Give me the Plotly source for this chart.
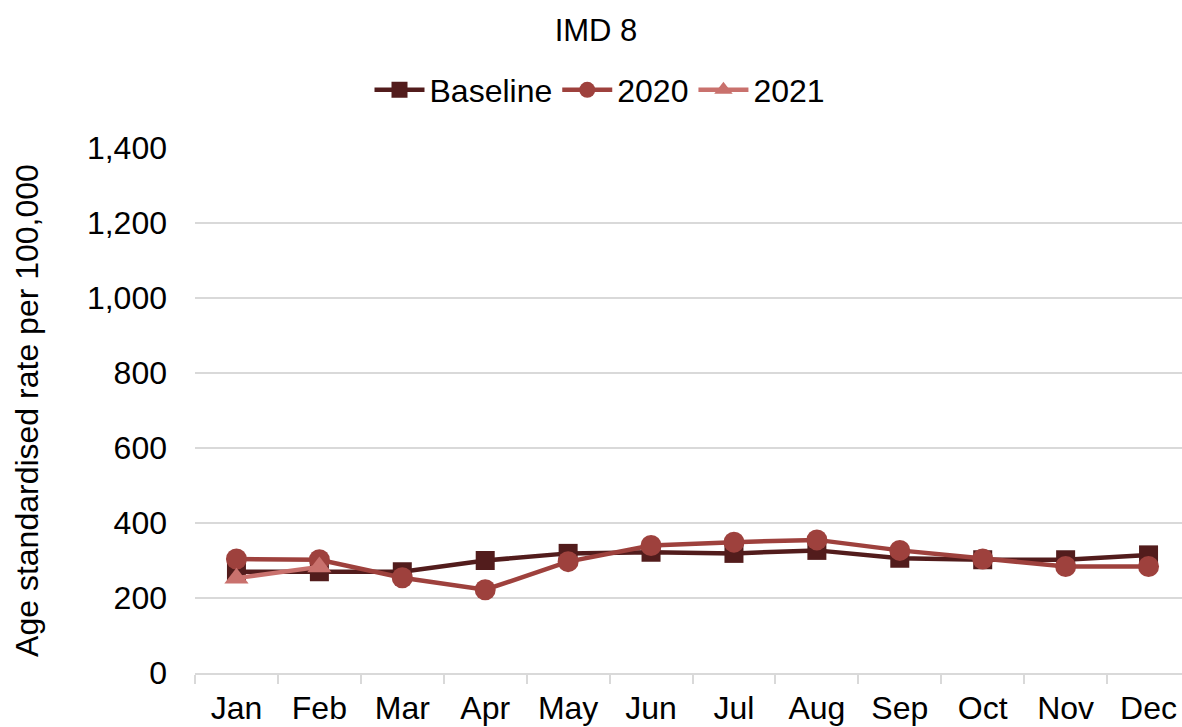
import plotly.graph_objects as go

months = ["Jan", "Feb", "Mar", "Apr", "May", "Jun", "Jul", "Aug", "Sep", "Oct", "Nov", "Dec"]
baseline = [270, 270, 270, 300, 319, 322, 319, 327, 306, 302, 302, 315]
y2020 = [304, 302, 254, 222, 297, 340, 349, 355, 327, 304, 284, 284]
months_2021 = ["Jan", "Feb"]
y2021 = [253, 283]

fig = go.Figure()
fig.add_trace(go.Scatter(x=months, y=baseline, name="Baseline", mode="lines+markers",
                         line=dict(color="#521c1c", width=4.5),
                         marker=dict(symbol="square", size=19, color="#521c1c")))
fig.add_trace(go.Scatter(x=months, y=y2020, name="2020", mode="lines+markers",
                         line=dict(color="#9e413d", width=4.5),
                         marker=dict(symbol="circle", size=21, color="#9e413d")))
fig.add_trace(go.Scatter(x=months_2021, y=y2021, name="2021", mode="lines+markers",
                         line=dict(color="#c9716d", width=4.5),
                         marker=dict(symbol="triangle-up", size=21, color="#c9716d")))

# the plot area runs slightly past the right edge of the window, as in the reference
W, H = 1190, 727
fig.update_layout(
    width=W, height=H,
    margin=dict(l=195, r=0, t=148, b=54),
    paper_bgcolor="white", plot_bgcolor="white",
    font=dict(family="Liberation Sans, Arial, sans-serif", color="#000000", size=32),
    title=dict(text="IMD 8", x=596 / W, xref="container", xanchor="center",
               y=1 - 30 / H, yref="container", yanchor="middle",
               font=dict(size=31)),
    legend=dict(orientation="h", x=(600 - 195) / 995, xanchor="center", y=1 + 58 / 525, yanchor="middle",
                font=dict(size=32), itemwidth=50, traceorder="normal"),
    showlegend=True,
)
fig.update_xaxes(type="category", range=[-0.5, 11.5], showgrid=False, showline=True,
                 linecolor="#d9d9d9", linewidth=2,
                 ticks="outside", tickson="boundaries", ticklen=9, tickcolor="#d9d9d9", tickwidth=2,
                 ticklabelstandoff=6, tickfont=dict(size=32))
fig.update_yaxes(range=[0, 1400], dtick=200, tickformat=",", showgrid=True, gridcolor="#d9d9d9",
                 gridwidth=2, zeroline=False, showline=False, ticks="", ticklabelstandoff=27,
                 tickfont=dict(size=32),
                 title=dict(text="Age standardised rate per 100,000", font=dict(size=32), standoff=38))

fig.write_html("out.html", config={"displayModeBar": False},
               post_script="document.body.style.margin='0';document.body.style.overflow='hidden';")
